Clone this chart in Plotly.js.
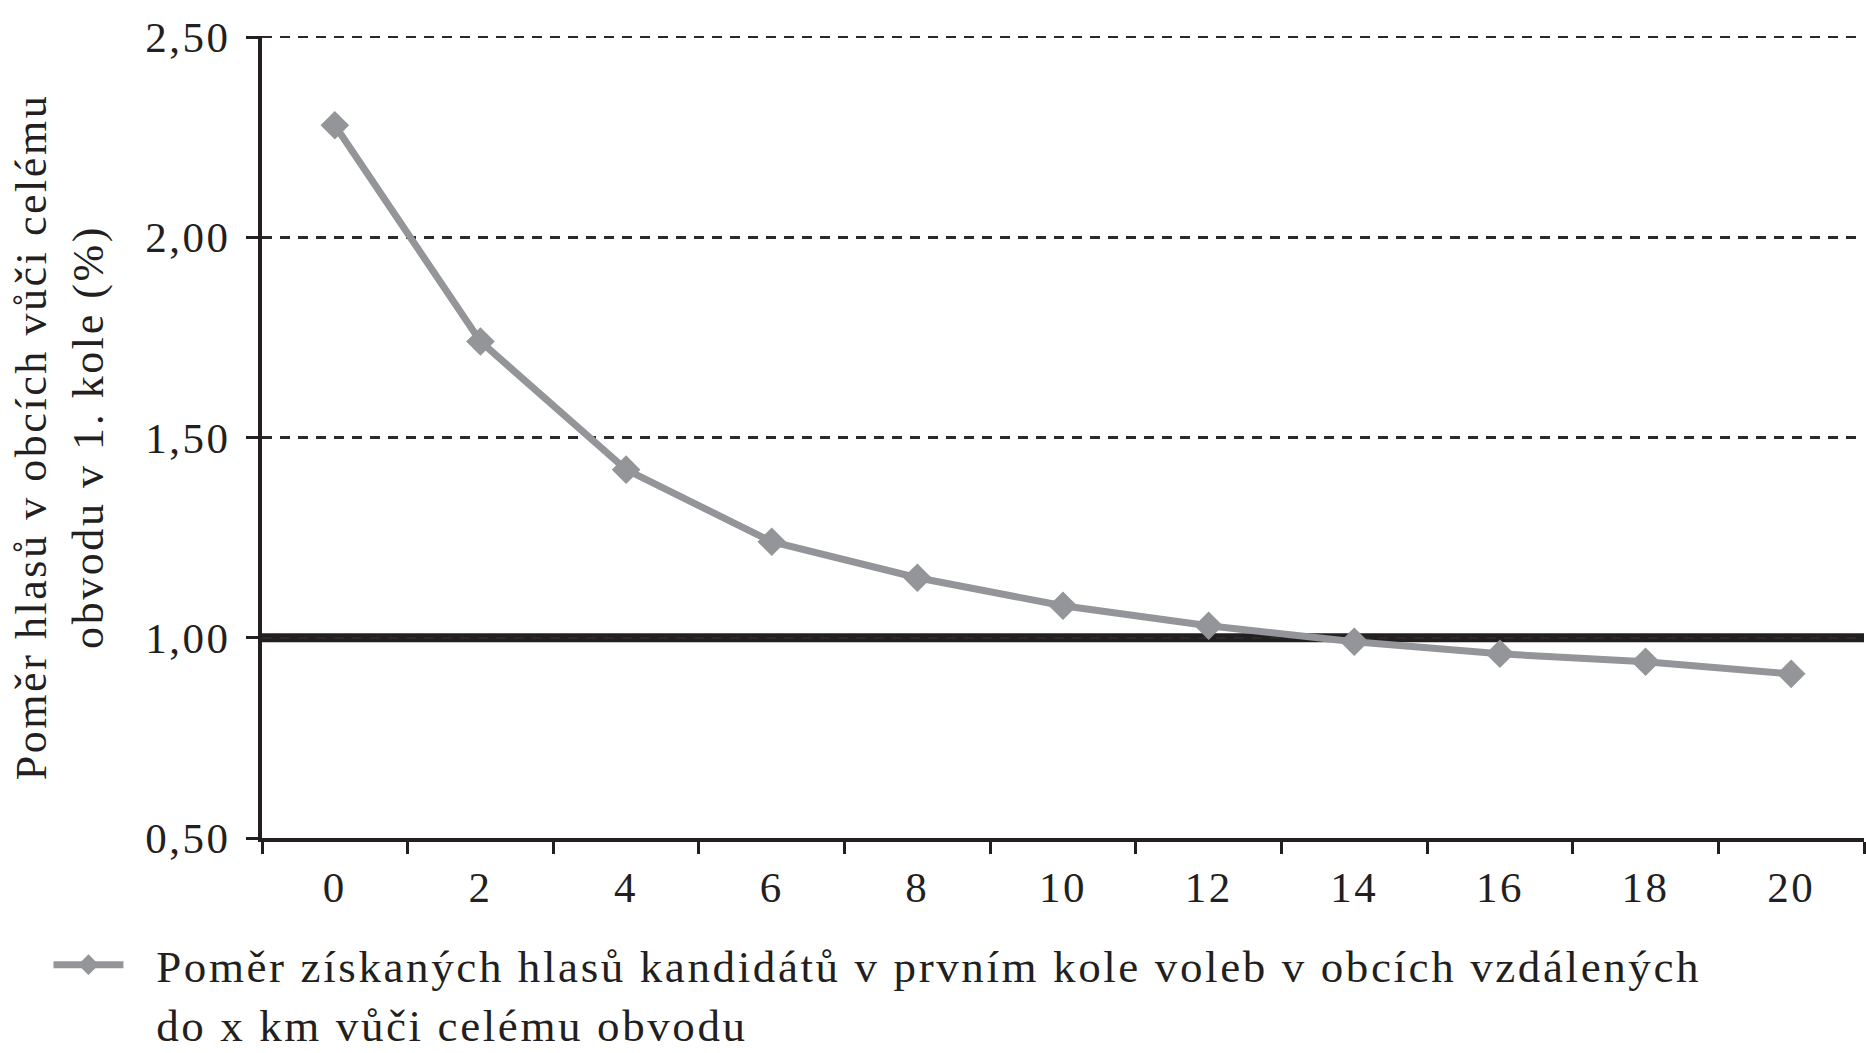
<!DOCTYPE html>
<html><head><meta charset="utf-8">
<script src="https://cdn.plot.ly/plotly-3.0.1.min.js"></script>
<style>
html,body{margin:0;padding:0;background:#fff}
#chart{width:1866px;height:1053px}
svg text{letter-spacing:0.058em}
</style>
</head><body><div id="chart"></div>
<script>
const distances = ["0","2","4","6","8","10","12","14","16","18","20"];
const ratios = [2.28, 1.74, 1.42, 1.24, 1.15, 1.08, 1.03, 0.99, 0.96, 0.94, 0.91];
const yTickValues = [0.5, 1.0, 1.5, 2.0, 2.5];
const referenceLevel = 1.0;
const seriesName = "\u00a0\u00a0Poměr získaných hlasů kandidátů v prvním kole voleb v obcích vzdálených<br>\u00a0\u00a0do x km vůči celému obvodu";
const yTitle = "Poměr hlasů v obcích vůči celému<br>obvodu v 1. kole (%)";

const ink = "#231f20";
const gray = "#939598";
const serif = "Liberation Serif, Times New Roman, serif";

const trace = {
  x: distances, y: ratios, type: "scatter", mode: "lines+markers",
  name: seriesName,
  line: {color: gray, width: 7},
  marker: {symbol: "diamond", size: 22, color: gray}
};

const layout = {
  width: 1866, height: 1053,
  margin: {l: 262, r: 2, t: 36, b: 215},
  paper_bgcolor: "#fff", plot_bgcolor: "#fff",
  separators: ",.",
  font: {family: serif, size: 43, color: ink},
  showlegend: true,
  legend: {x: -0.1333, xanchor: "left", xref: "paper", y: 0.1178, yref: "container", yanchor: "top", valign: "top",
           font: {family: serif, size: 45, color: ink}, itemwidth: 70, bgcolor: "rgba(0,0,0,0)"},
  xaxis: {
    type: "category", tickson: "boundaries", ticks: "outside", ticklen: 12, tickwidth: 3, tickcolor: ink,
    showline: true, linecolor: ink, linewidth: 4, showgrid: false, zeroline: false,
    tickfont: {family: serif, size: 43, color: ink}, ticklabelstandoff: 8,
    range: [-0.5, 10.5], fixedrange: true
  },
  yaxis: {
    range: [0.5, 2.503], tickvals: yTickValues, tickformat: ".2f",
    ticks: "outside", ticklen: 12, tickwidth: 3, tickcolor: ink,
    showline: true, linecolor: ink, linewidth: 4, zeroline: false,
    showgrid: true, gridcolor: "#2a2a2a", gridwidth: 2.5, griddash: "10px,8px",
    tickfont: {family: serif, size: 43, color: ink}, ticklabelstandoff: 7,
    title: {text: yTitle, font: {family: serif, size: 44, color: ink}, standoff: 29},
    fixedrange: true
  },
  shapes: [{type: "line", xref: "paper", x0: 0, x1: 1, yref: "y", y0: referenceLevel, y1: referenceLevel,
            line: {color: ink, width: 9}, layer: "between"}]
};

Plotly.newPlot("chart", [trace], layout, {displayModeBar: false, staticPlot: true});
</script></body></html>
